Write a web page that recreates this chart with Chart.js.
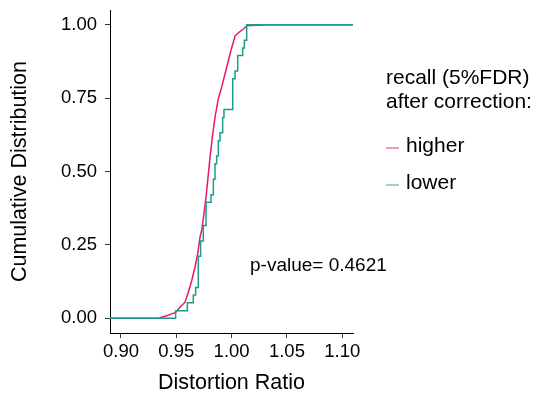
<!DOCTYPE html>
<html>
<head>
<meta charset="utf-8">
<script src="https://cdn.jsdelivr.net/npm/chart.js@4.4.1/dist/chart.umd.min.js"></script>
<style>
  html, body { margin: 0; padding: 0; background: #fff; }
  #wrap { width: 533px; height: 401px; }
</style>
</head>
<body>
<div id="wrap"><canvas id="ecdfGrafik" width="533" height="401"></canvas></div>
<script>
// Ma'lumotlar: kumulyativ taqsimot nuqtalari
const higherX = [0.8901, 0.9338, 0.9413, 0.9458, 0.9494, 0.9533, 0.9579, 0.9609, 0.9639, 0.9669,
  0.9693, 0.9714, 0.9729, 0.9750, 0.9769, 0.9784, 0.9805, 0.9826, 0.9850, 0.9880,
  0.9910, 0.9949, 0.9986, 1.0016, 1.0031, 1.0070, 1.0112, 1.0136, 1.0302, 1.1097];
const higherY = [0, 0, 0.009, 0.015, 0.020, 0.038, 0.055, 0.089, 0.128, 0.174,
  0.219, 0.276, 0.299, 0.356, 0.413, 0.469, 0.549, 0.617, 0.685, 0.748,
  0.788, 0.845, 0.901, 0.941, 0.962, 0.975, 0.987, 0.996, 1, 1];

const lowerX = [0.8901, 0.9494, 0.9600, 0.9654, 0.9675, 0.9699, 0.9720, 0.9744, 0.9769, 0.9814,
  0.9835, 0.9850, 0.9865, 0.9880, 0.9895, 0.9919, 0.9931, 1.0010, 1.0031, 1.0055,
  1.0100, 1.0115, 1.0136, 1.1097];
const lowerY = [0, 0.026, 0.053, 0.079, 0.105, 0.211, 0.263, 0.316, 0.395, 0.421,
  0.474, 0.526, 0.553, 0.605, 0.632, 0.684, 0.711, 0.816, 0.842, 0.895,
  0.921, 0.947, 1, 1];

const xTicks = [0.90, 0.95, 1.00, 1.05, 1.10];
const yTicks = [0, 0.25, 0.50, 0.75, 1.00];
const seriesLabels = ['higher', 'lower'];
const legendTitle = ['recall (5%FDR)', 'after correction:'];
const pValueText = 'p-value= 0.4621';

const FONT = '"Liberation Sans", Arial, Helvetica, sans-serif';
const colors = ['#E8196B', '#1C9D8B'];

function toPoints(xs, ys) {
  return xs.map((x, i) => ({ x: x, y: ys[i] }));
}

// Legend va p-qiymat yozuvi
const extrasPlugin = {
  id: 'extras',
  afterDraw(chart) {
    const ctx = chart.ctx;
    ctx.save();
    ctx.fillStyle = '#000';
    ctx.textBaseline = 'middle';
    ctx.textAlign = 'left';
    ctx.font = '21px ' + FONT;
    ctx.fillText(legendTitle[0], 386, 78);
    ctx.fillText(legendTitle[1], 386, 102);
    const keyY = [148, 185];
    seriesLabels.forEach((lab, i) => {
      ctx.globalAlpha = 0.6;
      ctx.strokeStyle = colors[i];
      ctx.lineWidth = 1.5;
      ctx.beginPath();
      ctx.moveTo(386, keyY[i]);
      ctx.lineTo(399, keyY[i]);
      ctx.stroke();
      ctx.globalAlpha = 1;
      ctx.fillText(lab, 406, keyY[i] - 2);
    });
    ctx.font = '19px ' + FONT;
    ctx.fillText(pValueText, 250, 266);
    ctx.restore();
  }
};

const ctx = document.getElementById('ecdfGrafik').getContext('2d');
const chart = new Chart(ctx, {
  type: 'line',
  data: {
    datasets: [
      {
        label: seriesLabels[1],
        data: toPoints(lowerX, lowerY),
        borderColor: colors[1],
        borderWidth: 1.5,
        pointRadius: 0,
        stepped: 'before',
        fill: false,
        order: 0
      },
      {
        label: seriesLabels[0],
        data: toPoints(higherX, higherY),
        borderColor: colors[0],
        borderWidth: 1.5,
        pointRadius: 0,
        tension: 0,
        fill: false,
        order: 1
      }
    ]
  },
  options: {
    responsive: false,
    animation: false,
    layout: { padding: { left: 0, top: 10, right: 180, bottom: 0 } },
    plugins: {
      legend: { display: false },
      tooltip: { enabled: false }
    },
    scales: {
      x: {
        type: 'linear',
        min: 0.8901,
        max: 1.1097,
        afterBuildTicks: (scale) => { scale.ticks = xTicks.map(v => ({ value: v })); },
        afterFit: (scale) => { scale.height = 68; },
        grid: { drawOnChartArea: false, drawTicks: true, tickLength: 5, color: '#333' },
        border: { display: true, color: '#000', width: 1 },
        ticks: {
          color: '#000',
          padding: 3,
          maxRotation: 0,
          font: { family: FONT, size: 18.5 },
          callback: (v) => v.toFixed(2)
        },
        title: {
          display: true,
          text: 'Distortion Ratio',
          color: '#000',
          font: { family: FONT, size: 21.5 },
          padding: { top: 0, bottom: 5 }
        }
      },
      y: {
        type: 'linear',
        min: -0.05,
        max: 1.05,
        afterBuildTicks: (scale) => { scale.ticks = yTicks.map(v => ({ value: v })); },
        afterFit: (scale) => {
          scale.width = 110;
          scale.paddingTop = 0;
          scale.paddingBottom = 0;
        },
        grid: { drawOnChartArea: false, drawTicks: true, tickLength: 5, color: '#333' },
        border: { display: true, color: '#000', width: 1 },
        ticks: {
          color: '#000',
          padding: 8,
          font: { family: FONT, size: 18.5 },
          callback: (v) => v.toFixed(2)
        },
        title: {
          display: true,
          text: 'Cumulative Distribution',
          color: '#000',
          font: { family: FONT, size: 21.5 },
          padding: { top: 7, bottom: 0 }
        }
      }
    }
  },
  plugins: [extrasPlugin]
});
</script>
</body>
</html>
